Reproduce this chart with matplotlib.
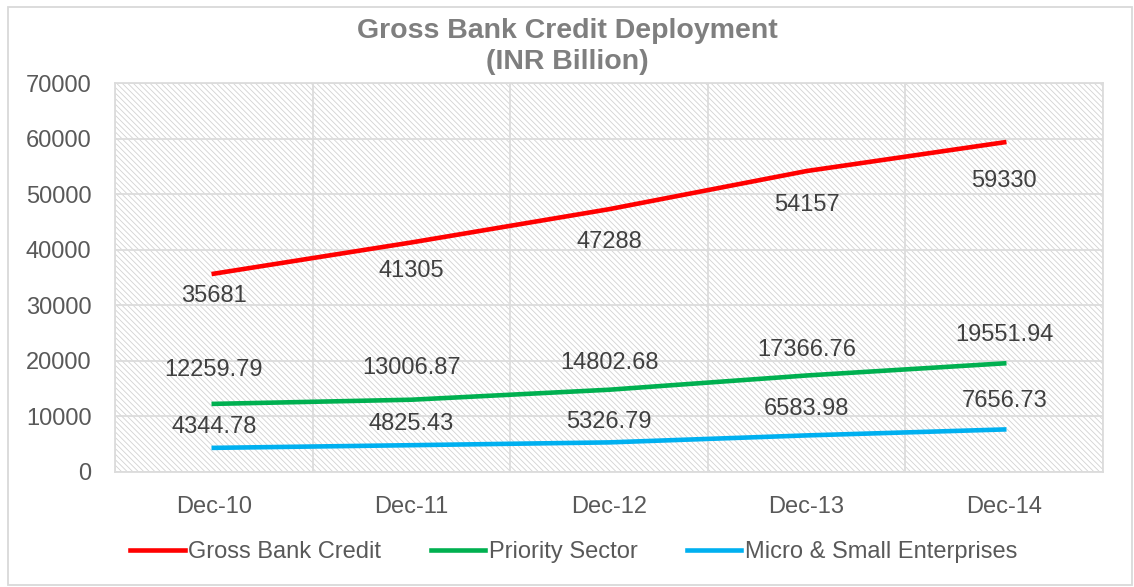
import matplotlib.pyplot as plt
import matplotlib as mpl
from matplotlib.patches import Rectangle

plt.rcParams['font.family'] = ['Liberation Sans', 'DejaVu Sans']
mpl.rcParams['hatch.color'] = '#d2d2d2'
mpl.rcParams['hatch.linewidth'] = 0.6

periods = ["Dec-10", "Dec-11", "Dec-12", "Dec-13", "Dec-14"]
gross_credit = [35681, 41305, 47288, 54157, 59330]
priority_sector = [12259.79, 13006.87, 14802.68, 17366.76, 19551.94]
micro_small = [4344.78, 4825.43, 5326.79, 6583.98, 7656.73]

gross_labels = ["35681", "41305", "47288", "54157", "59330"]
priority_labels = ["12259.79", "13006.87", "14802.68", "17366.76", "19551.94"]
micro_labels = ["4344.78", "4825.43", "5326.79", "6583.98", "7656.73"]

# label offsets in pixels (labels were nudged by hand in the original)
gross_off = [-22, -29, -33, -34, -39]
priority_off = [34, 32, 27, 25, 28]
micro_off = [21, 21, 20, 26, 28]

text_col = "#595959"
label_col = "#404040"

fig = plt.figure(figsize=(11.34, 5.87), dpi=100)
ax = fig.add_axes([115/1134, 1 - 472/587, (1103-115)/1134, (472-83)/587])

# hatched plot background
ax.add_patch(Rectangle((0, 0), 1, 1, transform=ax.transAxes, facecolor="white",
                       edgecolor="#d2d2d2", hatch="\\" * 6, linewidth=0, zorder=0))

x = list(range(len(periods)))
ax.plot(x, gross_credit, color="#FF0000", lw=3.3, label="Gross Bank Credit", zorder=3)
ax.plot(x, priority_sector, color="#00B050", lw=3.3, label="Priority Sector", zorder=3)
ax.plot(x, micro_small, color="#00B0F0", lw=3.3, label="Micro & Small Enterprises", zorder=3)

for i in x:
    ax.annotate(gross_labels[i], (i, gross_credit[i]), xytext=(0, gross_off[i]),
                textcoords="offset pixels", ha="center", va="center", fontsize=17, color=label_col)
    ax.annotate(priority_labels[i], (i, priority_sector[i]), xytext=(0, priority_off[i]),
                textcoords="offset pixels", ha="center", va="center", fontsize=17, color=label_col)
    ax.annotate(micro_labels[i], (i, micro_small[i]), xytext=(0, micro_off[i]),
                textcoords="offset pixels", ha="center", va="center", fontsize=17, color=label_col)

ax.set_xlim(-0.5, 4.5)
ax.set_ylim(0, 70000)
ax.set_yticks(range(0, 70001, 10000))
ax.set_xticks(x)
ax.set_xticklabels(periods)
ax.set_xticks([i - 0.5 for i in range(6)], minor=True)
ax.grid(False)
ax.xaxis.grid(True, which="minor", color="#dcdcdc", lw=1.3)
ax.yaxis.grid(True, which="major", color="#dcdcdc", lw=1.3)
ax.set_axisbelow(True)
for s in ax.spines.values():
    s.set_color("#dcdcdc")
    s.set_linewidth(1.3)
ax.tick_params(axis="both", which="both", length=0, labelsize=17, labelcolor=text_col)
ax.tick_params(axis="x", pad=17)
ax.tick_params(axis="y", pad=17)

fig.text(0.5, 1 - 31/587, "Gross Bank Credit Deployment", ha="center", va="center",
         fontsize=20.5, fontweight="bold", color="#7f7f7f")
fig.text(0.5, 1 - 62/587, "(INR Billion)", ha="center", va="center",
         fontsize=20.5, fontweight="bold", color="#7f7f7f")

fig.legend(loc="center", bbox_to_anchor=(0.506, 1 - 552/587), ncol=3, frameon=False,
           fontsize=17, labelcolor=text_col, handlelength=2.3, handletextpad=0.15,
           columnspacing=2.1)

fig.add_artist(Rectangle((8/1134, 1 - 585/587), 1124/1134, 578/587, transform=fig.transFigure,
                         fill=False, edgecolor="#d9d9d9", lw=1.3))

fig.savefig("out.png", dpi=100)
